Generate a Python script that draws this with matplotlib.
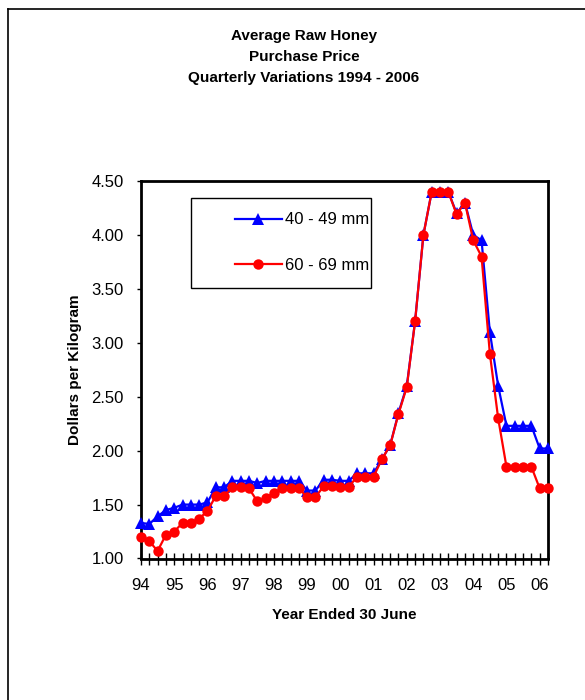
import matplotlib
matplotlib.use("Agg")
import matplotlib.pyplot as plt
from matplotlib.patches import Rectangle
from matplotlib.lines import Line2D

plt.rcParams['font.family'] = ['Liberation Sans', 'DejaVu Sans']

year_labels = ["94", "95", "96", "97", "98", "99", "00", "01", "02", "03", "04", "05", "06"]

size_40_49 = [1.33, 1.32, 1.39, 1.45, 1.47, 1.50, 1.50, 1.50, 1.52, 1.66,
              1.66, 1.72, 1.72, 1.72, 1.70, 1.72, 1.72, 1.72, 1.72, 1.72,
              1.63, 1.63, 1.73, 1.73, 1.72, 1.72, 1.79, 1.79, 1.79, 1.92,
              2.05, 2.35, 2.60, 3.20, 4.00, 4.40, 4.40, 4.40, 4.20, 4.30,
              4.00, 3.95, 3.10, 2.60, 2.23, 2.23, 2.23, 2.23, 2.02, 2.02]

size_60_69 = [1.20, 1.16, 1.07, 1.22, 1.25, 1.33, 1.33, 1.37, 1.44, 1.58,
              1.58, 1.66, 1.66, 1.65, 1.53, 1.56, 1.61, 1.65, 1.65, 1.65,
              1.57, 1.57, 1.67, 1.67, 1.66, 1.66, 1.76, 1.76, 1.76, 1.92,
              2.05, 2.34, 2.59, 3.20, 4.00, 4.40, 4.40, 4.40, 4.19, 4.30,
              3.95, 3.80, 2.90, 2.30, 1.85, 1.85, 1.85, 1.85, 1.65, 1.65]

series_labels = ["40 - 49 mm", "60 - 69 mm"]

W, H = 585, 700
fig = plt.figure(figsize=(W / 100, H / 100), dpi=100)

# outer frame (left and top edges visible)
fig.add_artist(Line2D([8 / W, 8 / W], [0, 1 - 9 / H], color='black', lw=1.2, transform=fig.transFigure))
fig.add_artist(Line2D([8 / W, 1], [1 - 9 / H, 1 - 9 / H], color='black', lw=1.2, transform=fig.transFigure))

x0, x1 = 141, 548
y_top, y_bot = 181, 558.5
ax = fig.add_axes([x0 / W, 1 - y_bot / H, (x1 - x0) / W, (y_bot - y_top) / H])

x = list(range(len(size_40_49)))
ax.plot(x, size_40_49, color='#0000FF', lw=1.6, marker='^', markersize=8,
        markeredgewidth=0, label=series_labels[0], clip_on=False, zorder=3)
ax.plot(x, size_60_69, color='#FF0000', lw=1.6, marker='o', markersize=7.5,
        markeredgewidth=0, label=series_labels[1], clip_on=False, zorder=4)

ax.set_xlim(0, len(x) - 1)
ax.set_ylim(1.0, 4.5)
ax.set_yticks([1.0 + 0.5 * i for i in range(8)])
ax.set_yticklabels([f"{1.0 + 0.5 * i:.2f}" for i in range(8)], fontsize=12)
ax.set_xticks(x, minor=True)
ax.set_xticks([4 * i for i in range(len(year_labels))])
ax.set_xticklabels(year_labels, fontsize=12)
ax.tick_params(axis='x', which='both', direction='inout', length=8, width=1, pad=10)
ax.tick_params(axis='y', direction='out', length=3, width=1, pad=9.5)

for s in ax.spines.values():
    s.set_linewidth(2)
    s.set_color('black')

ax.set_xlabel("Year Ended 30 June", fontsize=11, fontweight='bold', labelpad=11)
ax.set_ylabel("Dollars per Kilogram", fontsize=11, fontweight='bold', labelpad=7)

fig.text(304 / W, 1 - 57 / H, "Average Raw Honey\nPurchase Price\nQuarterly Variations 1994 - 2006",
         ha='center', va='center', fontsize=11, fontweight='bold', linespacing=1.65)

# legend box
lx0 = (190.7 - x0) / (x1 - x0)
lx1 = (371 - x0) / (x1 - x0)
ly0 = (y_bot - 287.7) / (y_bot - y_top)
ly1 = (y_bot - 198) / (y_bot - y_top)
ax.add_patch(Rectangle((lx0, ly0), lx1 - lx0, ly1 - ly0, transform=ax.transAxes,
                       facecolor='white', edgecolor='black', lw=1, zorder=5))
leg = ax.legend(loc='center left', bbox_to_anchor=((235 - x0) / (x1 - x0), (y_bot - 242.5) / (y_bot - y_top)),
                frameon=False, borderpad=0, borderaxespad=0, fontsize=12,
                handlelength=2.8, handletextpad=0.2, labelspacing=1.8)
leg.set_zorder(6)

fig.savefig("out.png", dpi=100, facecolor='white')
